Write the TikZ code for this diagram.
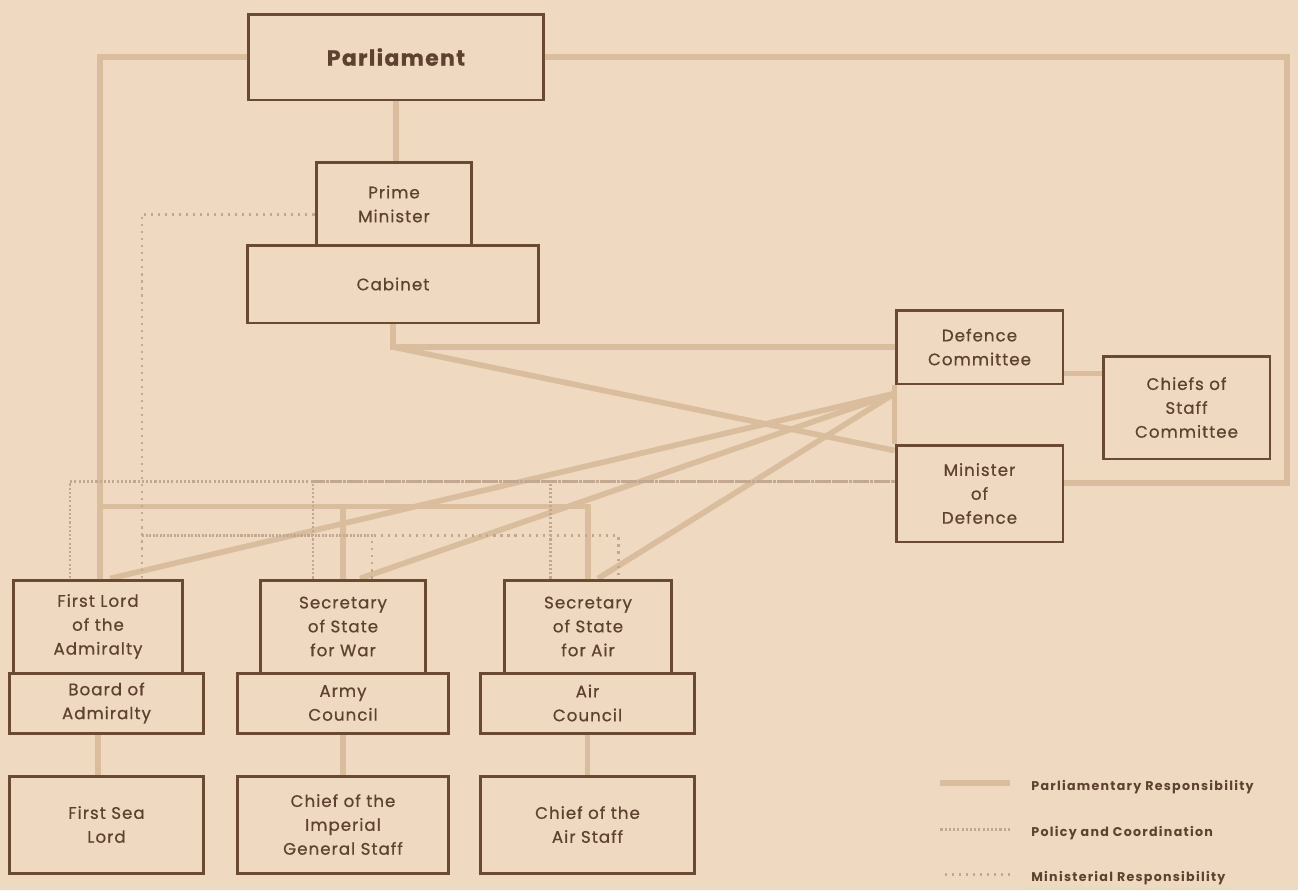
\documentclass[tikz,border=0pt]{standalone}
\usepackage{fontspec}
\setmainfont{Poppins}[FakeBold=0.6, LetterSpace=6]
\newfontfamily\legendfont{Poppins}[LetterSpace=10]
\usetikzlibrary{calc,backgrounds}
\definecolor{paper}{HTML}{EFD9C1}
\definecolor{ink}{HTML}{6A4A30}
\definecolor{inktext}{HTML}{5E4230}
\definecolor{wire}{HTML}{D9BD9C}
\definecolor{dots}{HTML}{C2A890}
\tikzset{
	box/.style={draw=ink, line width=1.7pt, fill=paper, text=inktext, align=center, inner sep=0pt, font=\fontsize{9.5}{13.6}\selectfont},
	parl/.style={line width=3.2pt, color=wire},
	policy/.style={line width=1.7pt, color=dots, dash pattern=on 1.2pt off 1.2pt},
	minis/.style={line width=1.7pt, color=dots, dash pattern=on 1.2pt off 2.8pt},
	legtext/.style={text=inktext, anchor=west, inner sep=0pt, font=\legendfont\fontsize{7.2}{8}\selectfont\bfseries},
}

\begin{document}
\begin{tikzpicture}[x=0.02cm, y=-0.02cm]
		%%%%% START %%%%%
		\useasboundingbox (0,0) rectangle (1298,890);
		
		\node[box, minimum width=5.92cm, minimum height=1.72cm, font=\fontsize{12.5}{15}\selectfont\bfseries] (parl) at (396,57) {Parliament};
		\node[box, minimum width=3.12cm, minimum height=1.68cm] (pm) at (394,204) {Prime\\Minister};
		\node[box, minimum width=5.84cm, minimum height=1.56cm] (cab) at (393,284) {Cabinet};
		
		\node[box, minimum width=3.34cm, minimum height=1.48cm] (dc) at (979.5,347) {Defence\\Committee};
		\node[box, minimum width=3.34cm, minimum height=1.94cm] (md) at (979.5,493.5) {Minister\\of\\Defence};
		\node[box, minimum width=3.34cm, minimum height=2.06cm] (cs) at (1186.5,407.5) {Chiefs of\\Staff\\Committee};
		
		\node[box, minimum width=3.4cm, minimum height=1.86cm] (fl) at (98,626.5) {First Lord\\of the\\Admiralty};
		\node[box, minimum width=3.9cm, minimum height=1.2cm] (ba) at (106.5,703) {Board of\\Admiralty};
		\node[box, minimum width=3.9cm, minimum height=1.94cm] (fsl) at (106.5,824.5) {First Sea\\Lord};
		
		\node[box, minimum width=3.32cm, minimum height=1.86cm] (sw) at (343,626.5) {Secretary\\of State\\for War};
		\node[box, minimum width=4.24cm, minimum height=1.2cm] (ac) at (343,703) {Army\\Council};
		\node[box, minimum width=4.24cm, minimum height=1.94cm] (cigs) at (343,824.5) {Chief of the\\Imperial\\General Staff};
		
		\node[box, minimum width=3.36cm, minimum height=1.86cm] (sa) at (588,626.5) {Secretary\\of State\\for Air};
		\node[box, minimum width=4.3cm, minimum height=1.2cm] (aic) at (587.5,703) {Air\\Council};
		\node[box, minimum width=4.3cm, minimum height=1.94cm] (cas) at (587.5,824.5) {Chief of the\\Air Staff};
		
		% legend
		\node[legtext] (lgp) at (1031,787) {Parliamentary Responsibility};
		\node[legtext] (lgc) at (1031,833) {Policy and Coordination};
		\node[legtext] (lgm) at (1031,878) {Ministerial Responsibility};
		
		\begin{scope}[on background layer]
		\fill[paper] (0,0) rectangle (1298,890);
		
		% parliamentary responsibility
		\draw[parl] (parl.south) -- (parl.south |- pm.north);
		\draw[parl] (parl.west) -| ($(fl.north)+(2,0)$);
		\coordinate (pj) at ($(fl.north)+(2,-72)$);
		\draw[parl] (pj) -| (sa.north);
		\draw[parl] (sw.north |- pj) -- (sw.north);
		\coordinate (rc) at (1287,483);
		\draw[parl] (parl.east) -| (rc) -- (rc -| md.east);
		
		\coordinate (cj) at (cab.south |- dc.west);
		\draw[parl] (cab.south) -- (cj) -- (dc.west);
		\draw[parl] (cj) -- ($(md.north west)!0.07!(md.south west)$);
		\draw[parl] (dc.south west) -- (md.north west);
		\coordinate (dcs) at ($(dc.south east)+(0,-12)$);
		\draw[parl] (dcs) -- (dcs -| cs.west);
		
		\coordinate (hub) at ($(dc.south west)+(0,8)$);
		\draw[parl] (hub) -- ($(fl.north)+(12,0)$);
		\draw[parl] (hub) -- ($(sw.north)+(17,0)$);
		\draw[parl] (hub) -- ($(sa.north)+(10,0)$);
		
		\draw[parl] (ba.south -| fl.north) -- (fsl.north -| fl.north);
		\draw[parl] (ac.south) -- (cigs.north);
		\draw[parl] (aic.south) -- (cas.north);
		
		% policy and coordination
		\coordinate (pd) at ($(md.north west)+(0,38)$);
		\draw[policy] (pd) -| ($(fl.north)+(-28,0)$);
		\draw[policy] ($(sw.north)+(-30,0)$) |- (pd);
		\draw[policy] ($(sa.north)+(-38,0)$) |- (pd);
		
		% ministerial responsibility
		\draw[minis] ($(pm.west)+(0,10)$) -| ($(fl.north)+(44,0)$);
		\coordinate (mj) at ($(fl.north)+(44,-43)$);
		\draw[minis] (mj) -| ($(sa.north)+(30,0)$);
		\draw[minis] ($(sw.north)+(29,0)$) |- (mj);
		
		% legend keys
		\draw[parl] ($(lgp.west)+(-21,-4)$) -- ++(-70,0);
		\draw[policy] ($(lgc.west)+(-21,-4)$) -- ++(-70,0);
		\draw[minis] ($(lgm.west)+(-21,-4)$) -- ++(-70,0);
		\end{scope}
		
		%%%%% END %%%%%
\end{tikzpicture}
\end{document}
